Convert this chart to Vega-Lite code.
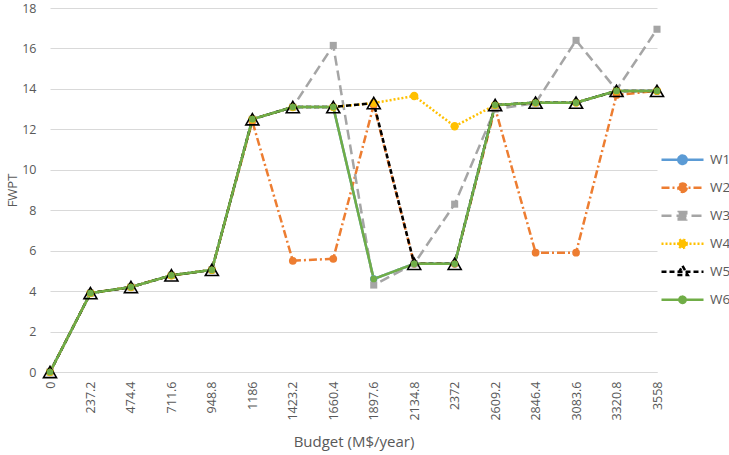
{
  "$schema": "https://vega.github.io/schema/vega-lite/v6.json",
  "width": 607,
  "height": 364,
  "autosize": "none",
  "padding": {"left": 50, "top": 8, "right": 72, "bottom": 83},
  "background": "white",
  "config": {
    "font": "Open Sans",
    "view": {"stroke": null},
    "axis": {"labelColor": "#595959", "titleColor": "#595959", "titleFontWeight": "normal", "gridColor": "#D9D9D9", "gridWidth": 1}
  },
  "data": {
    "values": [
      {"budget": 0, "W1": 0, "W2": 0, "W3": 0, "W4": 0, "W5": 0, "W6": 0},
      {"budget": 237.2, "W1": 3.9, "W2": 3.9, "W3": 3.9, "W4": 3.9, "W5": 3.9, "W6": 3.9},
      {"budget": 474.4, "W1": 4.2, "W2": 4.2, "W3": 4.2, "W4": 4.2, "W5": 4.2, "W6": 4.2},
      {"budget": 711.6, "W1": 4.78, "W2": 4.78, "W3": 4.78, "W4": 4.78, "W5": 4.78, "W6": 4.78},
      {"budget": 948.8, "W1": 5.05, "W2": 5.05, "W3": 5.05, "W4": 5.05, "W5": 5.05, "W6": 5.05},
      {"budget": 1186, "W1": 12.5, "W2": 12.4, "W3": 12.5, "W4": 12.5, "W5": 12.5, "W6": 12.5},
      {"budget": 1423.2, "W1": 13.1, "W2": 5.5, "W3": 13.1, "W4": 13.1, "W5": 13.1, "W6": 13.1},
      {"budget": 1660.4, "W1": 13.1, "W2": 5.6, "W3": 16.15, "W4": 13.1, "W5": 13.1, "W6": 13.1},
      {"budget": 1897.6, "W1": 4.6, "W2": 13.2, "W3": 4.3, "W4": 13.3, "W5": 13.3, "W6": 4.6},
      {"budget": 2134.8, "W1": 5.35, "W2": 5.35, "W3": 5.35, "W4": 13.65, "W5": 5.35, "W6": 5.35},
      {"budget": 2372, "W1": 5.35, "W2": 5.35, "W3": 8.3, "W4": 12.15, "W5": 5.35, "W6": 5.35},
      {"budget": 2609.2, "W1": 13.2, "W2": 13.05, "W3": 13.0, "W4": 13.2, "W5": 13.2, "W6": 13.2},
      {"budget": 2846.4, "W1": 13.32, "W2": 5.9, "W3": 13.3, "W4": 13.32, "W5": 13.32, "W6": 13.32},
      {"budget": 3083.6, "W1": 13.32, "W2": 5.9, "W3": 16.4, "W4": 13.32, "W5": 13.32, "W6": 13.32},
      {"budget": 3320.8, "W1": 13.9, "W2": 13.7, "W3": 13.95, "W4": 13.9, "W5": 13.9, "W6": 13.9},
      {"budget": 3558, "W1": 13.9, "W2": 13.9, "W3": 16.95, "W4": 13.9, "W5": 13.9, "W6": 13.9}
    ]
  },
  "transform": [{"fold": ["W1", "W2", "W3", "W4", "W5", "W6"], "as": ["series", "fwpt"]}],
  "encoding": {
    "x": {
      "field": "budget", "type": "ordinal",
      "scale": {"type": "point", "padding": 0},
      "axis": {
        "title": "Budget (M$/year)", "titleFontSize": 15, "titlePadding": 14,
        "labelAngle": 270, "labelFontSize": 12.5, "labelPadding": 9,
        "ticks": false, "tickSize": 0, "domainColor": "#D9D9D9",
        "gridOpacity": {"condition": {"test": "datum.value === 3558", "value": 0}, "value": 1}
      }
    },
    "y": {
      "field": "fwpt", "type": "quantitative",
      "scale": {"domain": [0, 18], "nice": false},
      "axis": {
        "title": "FWPT", "titleFontSize": 13, "titlePadding": 2,
        "values": [0, 2, 4, 6, 8, 10, 12, 14, 16, 18],
        "labelFontSize": 12.5, "labelPadding": 14, "ticks": false, "tickSize": 0, "domain": false
      }
    }
  },
  "layer": [
    {
      "mark": {"type": "line", "strokeWidth": 2.5},
      "encoding": {
        "color": {
          "field": "series", "type": "nominal",
          "scale": {"domain": ["W1", "W2", "W3", "W4", "W5", "W6"], "range": ["#5B9BD5", "#ED7D31", "#A5A5A5", "#FFC000", "#000000", "#70AD47"]},
          "legend": {
            "title": null, "orient": "none", "legendX": 610, "legendY": 139,
            "symbolSize": 1764, "clipHeight": 25.5, "rowPadding": 2,
            "labelFontSize": 13.5, "labelColor": "#595959", "labelOffset": 5, "symbolStrokeWidth": 2.5,
            "encoding": {
              "symbols": {
                "shape": {"value": {"expr": "datum.value === 'W3' ? 'M-1,0H1M-0.18,-0.18H0.18V0.18H-0.18Z' : datum.value === 'W5' ? 'M-1,0H1M0,-0.28L0.25,0.16H-0.25Z' : datum.value === 'W6' ? 'M-1,0H1M0.15,0A0.15,0.15,0,1,1,-0.15,0A0.15,0.15,0,1,1,0.15,0Z' : 'M-1,0H1M0.2,0A0.2,0.2,0,1,1,-0.2,0A0.2,0.2,0,1,1,0.2,0Z'"}},
                "fill": {"value": {"expr": "datum.value === 'W1' ? '#5B9BD5' : datum.value === 'W2' ? '#ED7D31' : datum.value === 'W3' ? '#A5A5A5' : datum.value === 'W4' ? '#FFC000' : datum.value === 'W5' ? 'white' : '#70AD47'"}},
                "size": {"value": 1764}
              }
            }
          }
        },
        "strokeDash": {
          "field": "series", "type": "nominal",
          "scale": {"domain": ["W1", "W2", "W3", "W4", "W5", "W6"], "range": [[1, 0], [8, 3, 2, 3], [10, 5], [2, 2], [5, 3], [1, 0]]}
        }
      }
    },
    {
      "transform": [{"filter": "datum.series === 'W1'"}],
      "mark": {"type": "point", "shape": "circle", "filled": true, "opacity": 1, "color": "#5B9BD5", "size": 55}
    },
    {
      "transform": [{"filter": "datum.series === 'W2'"}],
      "mark": {"type": "point", "shape": "circle", "filled": true, "opacity": 1, "color": "#ED7D31", "size": 60}
    },
    {
      "transform": [{"filter": "datum.series === 'W3'"}],
      "mark": {"type": "point", "shape": "square", "filled": true, "opacity": 1, "color": "#A5A5A5", "size": 50}
    },
    {
      "transform": [{"filter": "datum.series === 'W4'"}],
      "mark": {"type": "point", "shape": "circle", "filled": true, "opacity": 1, "color": "#FFC000", "size": 70}
    },
    {
      "transform": [{"filter": "datum.series === 'W5'"}],
      "mark": {"type": "point", "shape": "triangle-up", "filled": false, "opacity": 1, "stroke": "#000000", "fill": "transparent", "strokeWidth": 1.6, "size": 170}
    },
    {
      "transform": [{"filter": "datum.series === 'W6'"}],
      "mark": {"type": "point", "shape": "circle", "filled": true, "opacity": 1, "color": "#70AD47", "size": 45}
    }
  ]
}
